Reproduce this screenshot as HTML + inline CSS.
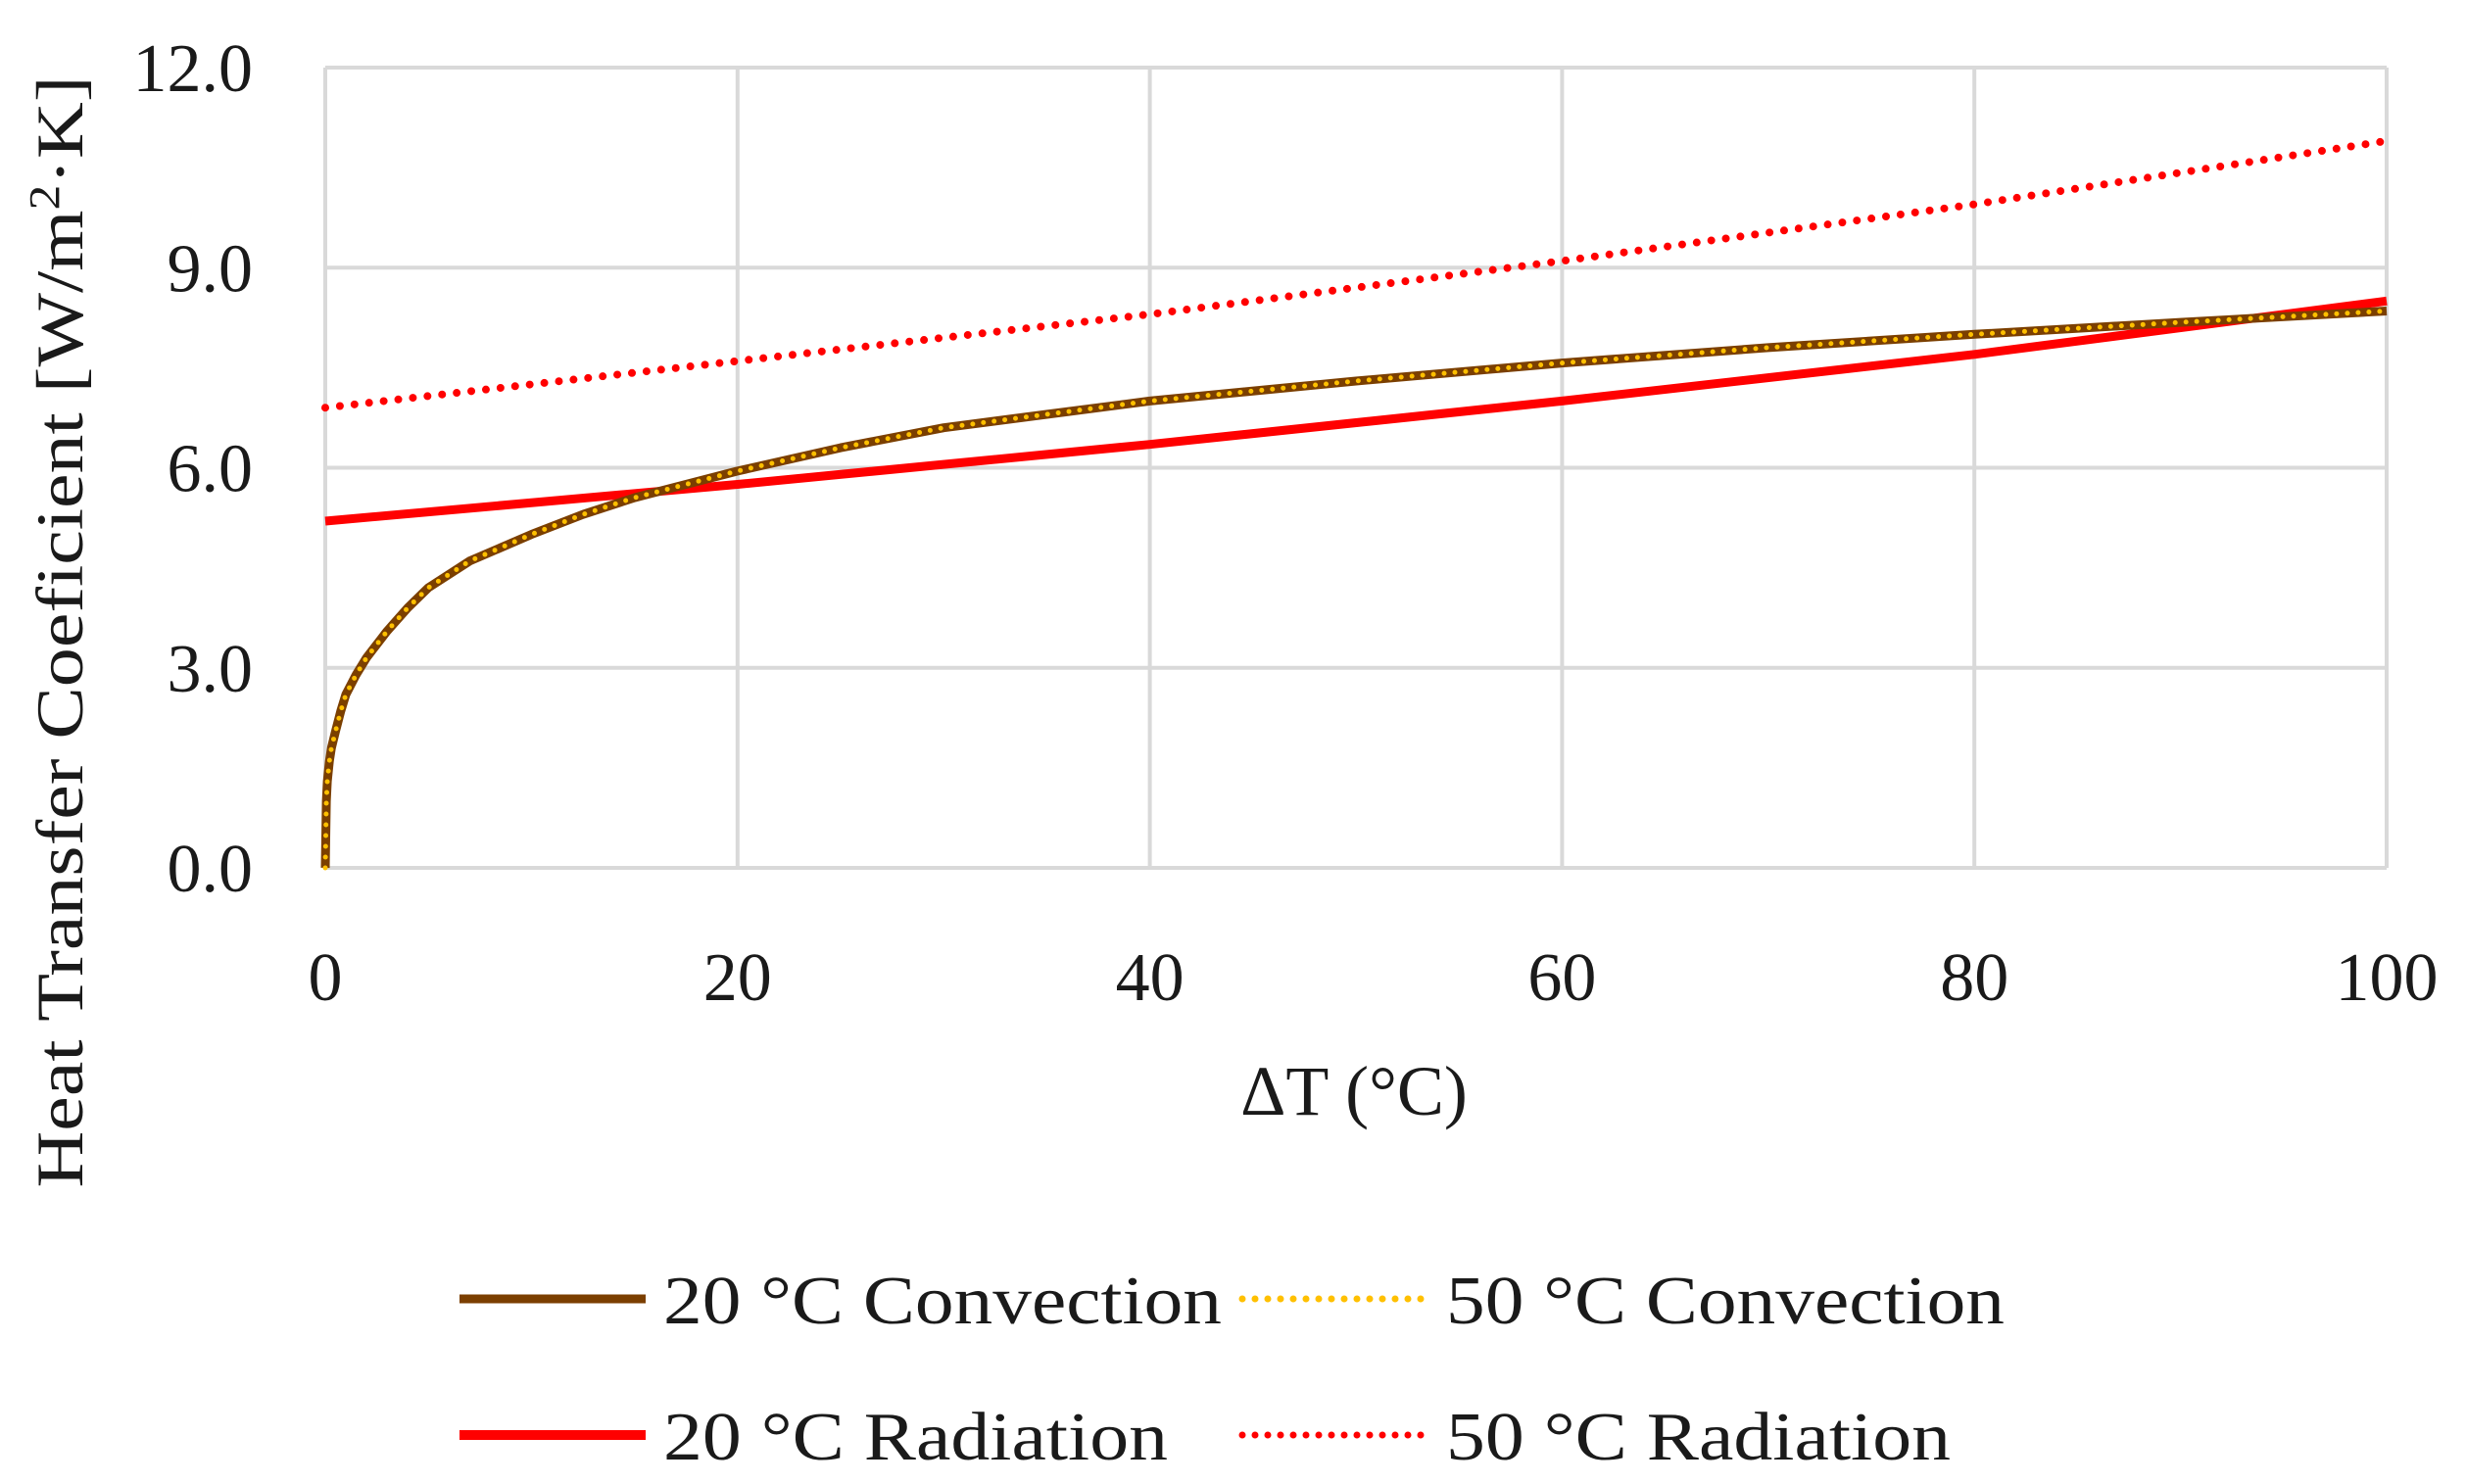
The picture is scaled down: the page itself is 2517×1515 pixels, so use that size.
<!DOCTYPE html>
<html><head><meta charset="utf-8"><style>
html,body{margin:0;padding:0;background:#fff}
svg{display:block}
text{font-family:"Liberation Serif",serif;fill:#1a1a1a}
</style></head><body>
<svg id="chart" width="2517" height="1515" viewBox="0 0 2517 1515" xmlns="http://www.w3.org/2000/svg">
<g id="grid"></g>
<g id="series"></g>
<g id="ticks"></g>
<text x="1382" y="1138" font-size="72" text-anchor="middle">ΔT (°C)</text>
<text transform="translate(84,645) rotate(-90)" font-size="68" text-anchor="middle" textLength="1135" lengthAdjust="spacingAndGlyphs">Heat Transfer Coeficient [W/m<tspan dy="-24" font-size="44">2</tspan><tspan dy="24">·K]</tspan></text>
<g id="legend"></g>
</svg>
<script>
const xTicks=[0,20,40,60,80,100];
const yTicks=[0,3,6,9,12];
const yTickLabels=["0.0","3.0","6.0","9.0","12.0"];
const convX=[0,0.05,0.1,0.2,0.3,0.5,0.75,1,1.5,2,3,4,5,7,10,12.5,15,20,25,30,35,40,50,60,70,80,90,100];
const conv20=[0,1.0,1.3,1.6,1.8,2.05,2.35,2.6,2.9,3.15,3.55,3.9,4.2,4.6,5.0,5.3,5.55,5.95,6.3,6.6,6.8,7.0,7.3,7.57,7.8,8.0,8.18,8.35];
const conv50=[0,1.0,1.3,1.6,1.8,2.05,2.35,2.6,2.9,3.15,3.55,3.9,4.2,4.6,5.0,5.3,5.55,5.95,6.3,6.6,6.8,7.0,7.3,7.57,7.8,8.0,8.18,8.35];
const radX=[0,20,40,60,80,100];
const rad20=[5.2,5.75,6.35,7.0,7.7,8.5];
const rad50=[6.9,7.6,8.3,9.1,9.95,10.9];
const X0=332,X1=2436,Y0=886,Y1=69;
const sx=v=>X0+(v-0)/(100-0)*(X1-X0);
const sy=v=>Y0-(v-0)/(12-0)*(Y0-Y1);
const NS="http://www.w3.org/2000/svg";
function mk(t,a,p){const e=document.createElementNS(NS,t);for(const k in a)e.setAttribute(k,a[k]);p.appendChild(e);return e;}
const grid=document.getElementById('grid'),ticks=document.getElementById('ticks'),ser=document.getElementById('series'),leg=document.getElementById('legend');
yTicks.forEach((v,i)=>{
 const l=mk('line',{x1:X0,x2:X1,y1:sy(v),y2:sy(v),stroke:'#d9d9d9','stroke-width':4},grid);
 
 
 const t=mk('text',{x:258,y:sy(v)+24,'font-size':70,'text-anchor':'end'},ticks);t.textContent=yTickLabels[i];
 
 
});
xTicks.forEach(v=>{
 const l=mk('line',{x1:sx(v),x2:sx(v),y1:Y1,y2:Y0,stroke:'#d9d9d9','stroke-width':4},grid);
 
 
 const t=mk('text',{x:sx(v),y:1021,'font-size':70,'text-anchor':'middle'},ticks);t.textContent=v;
 
 
});
function path(xs,ys){return xs.map((x,i)=>(i?'L':'M')+sx(x).toFixed(1)+','+sy(ys[i]).toFixed(1)).join('');}
let p;
p=mk('path',{d:path(radX,rad50),fill:'none',stroke:'#ff0000','stroke-width':8,'stroke-dasharray':'0 15','stroke-linecap':'round'},ser);


p=mk('path',{d:path(radX,rad20),fill:'none',stroke:'#ff0000','stroke-width':9},ser);


p=mk('path',{d:path(convX,conv20),fill:'none',stroke:'#7b3f00','stroke-width':9,'stroke-linejoin':'round'},ser);


p=mk('path',{d:path(convX,conv50),fill:'none',stroke:'#ffc000','stroke-width':5,'stroke-dasharray':'0 11','stroke-linecap':'round'},ser);


const legItems=[
 {x:469,y:1326,c:'#7b3f00',d:null,w:9,t:'20 °C Convection',tl:570,n:'legend-20c-convection'},
 {x:1268,y:1326,c:'#ffc000',d:'0 13',w:7,t:'50 °C Convection',tl:570,n:'legend-50c-convection'},
 {x:469,y:1465,c:'#ff0000',d:null,w:10,t:'20 °C Radiation',tl:515,n:'legend-20c-radiation'},
 {x:1268,y:1465,c:'#ff0000',d:'0 13',w:7,t:'50 °C Radiation',tl:515,n:'legend-50c-radiation'}];
legItems.forEach(it=>{
 const g=mk('g',{},leg);
 
 
 const a={x1:it.x,x2:it.x+190,y1:it.y,y2:it.y,stroke:it.c,'stroke-width':it.w};
 if(it.d){a['stroke-dasharray']=it.d;a['stroke-linecap']='round';}
 mk('line',a,g);
 const t=mk('text',{x:it.x+208,y:it.y+25,'font-size':70,textLength:it.tl,lengthAdjust:'spacingAndGlyphs'},g);t.textContent=it.t;
});
</script>
</body></html>
